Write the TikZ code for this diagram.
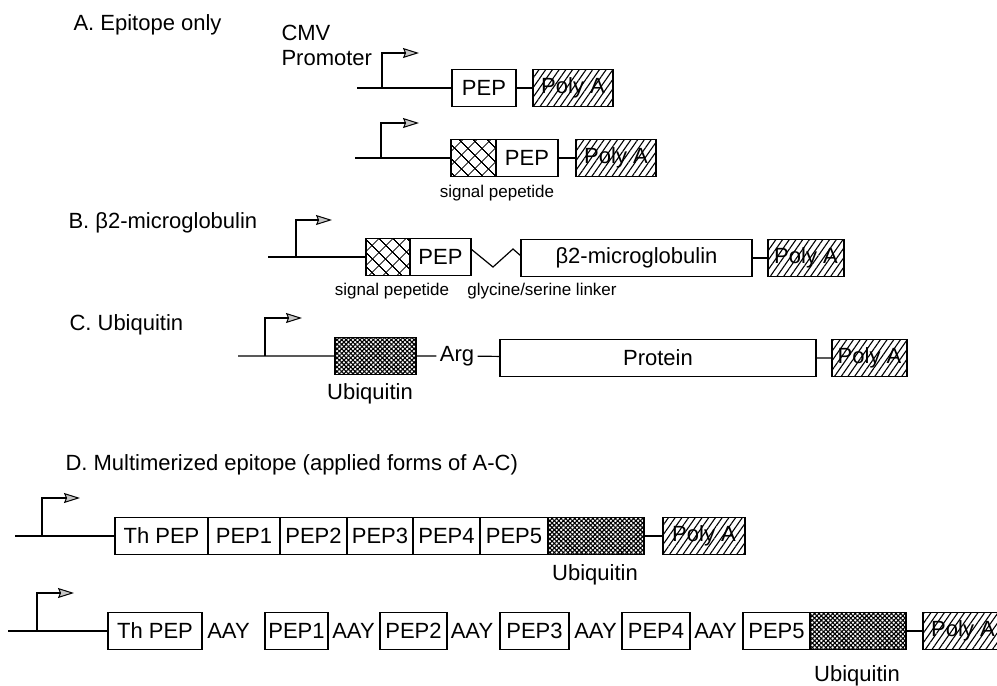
\documentclass[tikz,border=0pt]{standalone}
\usepackage{fontspec}
\setmainfont{Liberation Sans}
\usetikzlibrary{arrows.meta,patterns.meta,positioning}

\begin{document}
\begin{tikzpicture}[x=1pt, y=-1pt,
    every node/.style={font=\fontsize{22}{25}\selectfont},
    lbl/.style={font=\fontsize{17}{20}\selectfont},
    seg/.style={draw, line width=1.2pt, minimum height=37pt, inner sep=0pt, outer sep=0pt},
    pepbox/.style={seg, fill=white},
    sigbox/.style={seg, pattern={Hatch[angle=45,distance=10.5pt,line width=1pt]}},
    ubibox/.style={seg, pattern={Hatch[angle=45,distance=3.2pt,line width=1.1pt]}},
    polya/.style={seg, minimum width=80pt, pattern={Lines[angle=55,distance=5.5pt,line width=1.1pt]}},
    wire/.style={line width=1.2pt},
    prom/.style={line width=1.2pt, -{Stealth[inset=2pt,length=16pt,width=10pt,fill=gray!45,line width=1pt]}}]

    \useasboundingbox (0,0) rectangle (997,686);
    \clip (0,0) rectangle (997,686);

    % 标题
    \node[anchor=base west] (ta) at (70,30) {A. Epitope only};
    \node[anchor=base west] (tb) at (65,228) {B. β2-microglobulin};
    \node[anchor=base west] (tc) at (66,330) {C. Ubiquitin};
    \node[anchor=base west] (td) at (62,470) {D. Multimerized epitope (applied forms of A-C)};
    \node[anchor=base west] (cmv) at (278,40) {CMV};
    \node[anchor=base west] (cmvp) at (278,65) {Promoter};

    % A 第一行
    \coordinate (a1s) at (357,88);
    \coordinate (a1p) at (382,88);
    \coordinate (a1t) at (419,53);
    \node[pepbox, minimum width=64pt] (a1pep) at (484,88) {PEP};
    \node[polya, right=17pt of a1pep] (a1pa) {Poly A};
    \draw[wire] (a1s) -- (a1pep) (a1pep) -- (a1pa);
    \draw[prom] (a1p) |- (a1t);

    % A 第二行
    \coordinate (a2s) at (355,158);
    \coordinate (a2p) at (381,158);
    \coordinate (a2t) at (419,123);
    \node[sigbox, minimum width=45pt] (a2sig) at (473.5,158) {};
    \node[pepbox, minimum width=62pt, right=0pt of a2sig] (a2pep) {PEP};
    \node[polya, right=18pt of a2pep] (a2pa) {Poly A};
    \draw[wire] (a2s) -- (a2sig) (a2pep) -- (a2pa);
    \draw[prom] (a2p) |- (a2t);
    \node[lbl] (a2lab) at (497,193) {signal pepetide};

    % B
    \coordinate (bs) at (268,257);
    \coordinate (bp) at (296,257);
    \coordinate (bt) at (332,220);
    \node[sigbox, minimum width=44pt] (bsig) at (388,257) {};
    \node[pepbox, minimum width=61pt, right=0pt of bsig] (bpep) {PEP};
    \node[pepbox, minimum width=231pt] (bb2) at (636.5,258) {β2-microglobulin};
    \node[polya, minimum width=76pt, right=16pt of bb2] (bpa) {Poly A};
    \coordinate (bz1) at (493,267);
    \coordinate (bz2) at (513,249);
    \draw[wire] (bs) -- (bsig) (bb2) -- (bpa);
    \draw[wire] ([yshift=8pt]bpep.east) -- (bz1) -- (bz2) -- ([yshift=2pt]bb2.west);
    \draw[prom] (bp) |- (bt);
    \node[lbl] (blab1) at (392,291) {signal pepetide};
    \node[lbl] (blab2) at (542,291) {glycine/serine linker};

    % C
    \coordinate (cs) at (238,356);
    \coordinate (cp) at (265,356);
    \coordinate (ct) at (302,318);
    \node[ubibox, minimum width=81pt] (cubi) at (375.5,356) {};
    \node (carg) at (457,356) {Arg};
    \node[pepbox, minimum width=316pt] (cprot) at (658,358) {Protein};
    \node[polya, minimum width=75pt, right=16pt of cprot] (cpa) {Poly A};
    \draw[wire] (cs) -- (cubi) (cubi) -- (carg) (carg) -- (cprot) (cprot) -- (cpa);
    \draw[prom] (cp) |- (ct);
    \node (culab) at (370,394) {Ubiquitin};

    % D 第一行
    \coordinate (d1s) at (15,536);
    \coordinate (d1p) at (42,536);
    \coordinate (d1t) at (80,498);
    \node[pepbox, minimum width=93pt] (d1th) at (161.5,536) {Th PEP};
    \node[pepbox, minimum width=72pt, right=0pt of d1th] (d1p1) {PEP1};
    \node[pepbox, minimum width=67pt, right=0pt of d1p1] (d1p2) {PEP2};
    \node[pepbox, minimum width=66pt, right=0pt of d1p2] (d1p3) {PEP3};
    \node[pepbox, minimum width=67pt, right=0pt of d1p3] (d1p4) {PEP4};
    \node[pepbox, minimum width=68pt, right=0pt of d1p4] (d1p5) {PEP5};
    \node[ubibox, minimum width=96pt, right=0pt of d1p5] (d1ubi) {};
    \node[polya, minimum width=82pt, right=19pt of d1ubi] (d1pa) {Poly A};
    \draw[wire] (d1s) -- (d1th) (d1ubi) -- (d1pa);
    \draw[prom] (d1p) |- (d1t);
    \node (d1lab) at (595,575) {Ubiquitin};

    % D 第二行
    \coordinate (d2s) at (8,631);
    \coordinate (d2p) at (37,631);
    \coordinate (d2t) at (74,593);
    \node[pepbox, minimum width=94pt] (d2th) at (155,631) {Th PEP};
    \node (d2a1) at (228.5,631) {AAY};
    \node[pepbox, minimum width=63pt] (d2p1) at (296.5,631) {PEP1};
    \node (d2a2) at (353.5,631) {AAY};
    \node[pepbox, minimum width=67pt] (d2p2) at (413.5,631) {PEP2};
    \node (d2a3) at (472,631) {AAY};
    \node[pepbox, minimum width=69pt] (d2p3) at (534.5,631) {PEP3};
    \node (d2a4) at (595.5,631) {AAY};
    \node[pepbox, minimum width=68pt] (d2p4) at (656,631) {PEP4};
    \node (d2a5) at (715.5,631) {AAY};
    \node[pepbox, minimum width=67pt] (d2p5) at (776.5,631) {PEP5};
    \node[ubibox, minimum width=96pt, right=0pt of d2p5] (d2ubi) {};
    \node[polya, right=17pt of d2ubi] (d2pa) {Poly A};
    \draw[wire] (d2s) -- (d2th) (d2ubi) -- (d2pa);
    \draw[prom] (d2p) |- (d2t);
    \node (d2lab) at (857,676) {Ubiquitin};
\end{tikzpicture}
\end{document}
